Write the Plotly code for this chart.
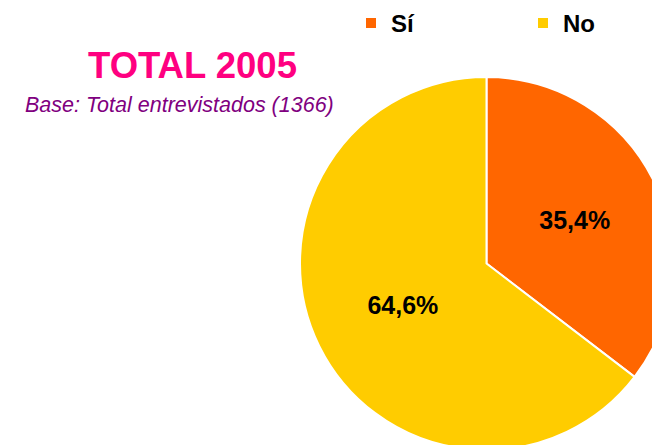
import plotly.graph_objects as go

labels = ["Sí", "No"]
values = [35.4, 64.6]
colors = ["#FF6600", "#FFCC00"]
title_text = "TOTAL 2005"
subtitle_text = "Base: Total entrevistados (1366)"

W, H = 700, 470
FONT = "Liberation Sans, Arial, sans-serif"

fig = go.Figure(go.Pie(
    labels=labels,
    values=values,
    sort=False,
    direction="clockwise",
    rotation=0,
    marker=dict(colors=colors, line=dict(color="white", width=2)),
    texttemplate="<b>%{percent:.1%}</b>",
    textposition="inside",
    insidetextorientation="horizontal",
    textfont=dict(family=FONT, size=25, color="black"),
    domain=dict(x=[300 / W, 673 / W], y=[20 / H, 393 / H]),
    hoverinfo="label+percent",
))

fig.update_layout(
    width=W, height=H,
    autosize=False,
    margin=dict(l=0, r=0, t=0, b=0, autoexpand=False),
    paper_bgcolor="white",
    separators=",.",
    showlegend=True,
    legend=dict(
        orientation="h",
        xref="container", yref="container",
        x=351 / W, xanchor="left",
        y=1 - 1 / H, yanchor="top",
        font=dict(family=FONT, size=24, color="black", weight="bold"),
        entrywidth=127,
        entrywidthmode="pixels",
        bgcolor="rgba(0,0,0,0)",
        traceorder="normal",
    ),
    annotations=[
        dict(text="<b>" + title_text + "</b>", x=192 / W, y=1 - 65 / H,
             xref="paper", yref="paper", xanchor="center", yanchor="middle",
             showarrow=False, font=dict(family=FONT, size=36.5, color="#FF0080")),
        dict(text="<i>" + subtitle_text + "</i>", x=179 / W, y=1 - 105 / H,
             xref="paper", yref="paper", xanchor="center", yanchor="middle",
             showarrow=False, font=dict(family=FONT, size=21.5, color="#800080")),
    ],
)

post = """
document.documentElement.style.overflow='hidden';
document.body.style.overflow='hidden';
document.body.style.margin='0';
"""
fig.write_html("out.html", post_script=post, config={"displayModeBar": False})
